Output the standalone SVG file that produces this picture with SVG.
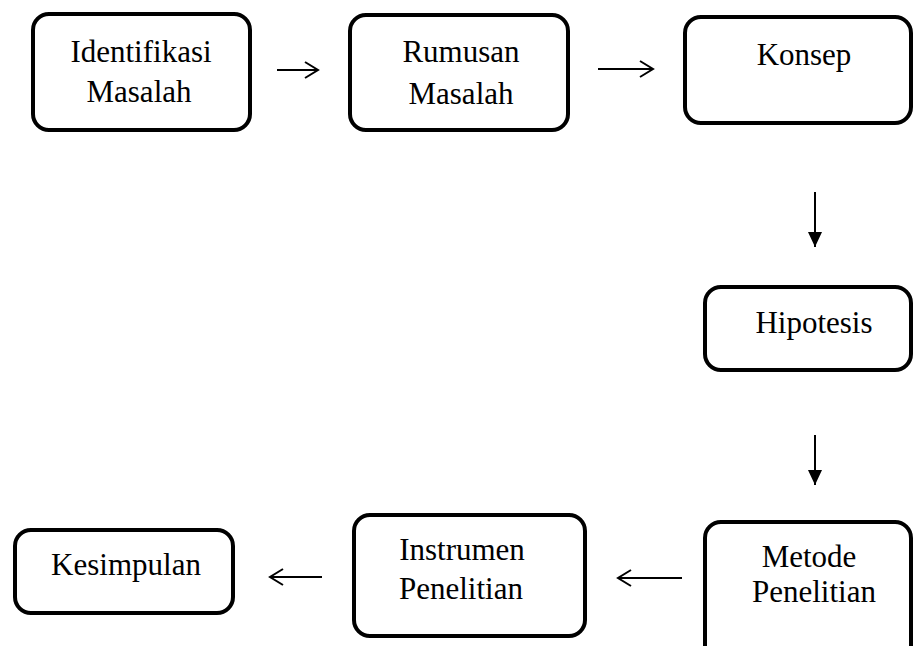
<svg xmlns="http://www.w3.org/2000/svg" width="915" height="646" viewBox="0 0 915 646">
<defs>
<style>
.box{fill:#fff;stroke:#000;stroke-width:4}
.t{font-family:'Liberation Serif','Times New Roman',serif;font-size:31px;fill:#000;text-anchor:middle}
.c{stroke:#000;stroke-width:2;fill:none}
</style>
<marker id="open" markerUnits="userSpaceOnUse" markerWidth="18" markerHeight="20" refX="14" refY="9" orient="auto" overflow="visible">
<path d="M1,1 L14,9 L1,17" fill="none" stroke="#000" stroke-width="2"/>
</marker>
<marker id="solid" markerUnits="userSpaceOnUse" markerWidth="16" markerHeight="16" refX="15" refY="7" orient="auto" overflow="visible">
<path d="M0,0 L15,7 L0,14 z" fill="#000"/>
</marker>
</defs>
<rect width="915" height="646" fill="#fff"/>
<g id="connectors">
<line class="c" x1="277" y1="70" x2="318" y2="70" marker-end="url(#open)"/>
<line class="c" x1="598" y1="69" x2="653" y2="69" marker-end="url(#open)"/>
<line class="c" x1="815" y1="192" x2="815" y2="247" marker-end="url(#solid)"/>
<line class="c" x1="815" y1="435" x2="815" y2="485" marker-end="url(#solid)"/>
<line class="c" x1="322" y1="577" x2="270" y2="577" marker-end="url(#open)"/>
<line class="c" x1="682" y1="578" x2="618" y2="578" marker-end="url(#open)"/>
</g>
<g id="identifikasi">
<rect class="box" x="33" y="14" width="217" height="116" rx="16"/>
<text class="t" x="141" y="62">Identifikasi</text>
<text class="t" x="139" y="102">Masalah</text>
</g>
<g id="rumusan">
<rect class="box" x="350" y="15" width="218" height="115" rx="16"/>
<text class="t" x="461" y="62">Rumusan</text>
<text class="t" x="461" y="104">Masalah</text>
</g>
<g id="konsep">
<rect class="box" x="685" y="17" width="226" height="106" rx="16"/>
<text class="t" x="804" y="65">Konsep</text>
</g>
<g id="hipotesis">
<rect class="box" x="705" y="287" width="206" height="83" rx="16"/>
<text class="t" x="814" y="333">Hipotesis</text>
</g>
<g id="metode">
<rect class="box" x="705" y="522" width="206" height="140" rx="16"/>
<text class="t" x="809" y="567">Metode</text>
<text class="t" x="814" y="602">Penelitian</text>
</g>
<g id="instrumen">
<rect class="box" x="354" y="515" width="231" height="121" rx="16"/>
<text class="t" x="462" y="560">Instrumen</text>
<text class="t" x="461" y="599">Penelitian</text>
</g>
<g id="kesimpulan">
<rect class="box" x="15" y="530" width="218" height="83" rx="16"/>
<text class="t" x="126" y="575">Kesimpulan</text>
</g>
</svg>
